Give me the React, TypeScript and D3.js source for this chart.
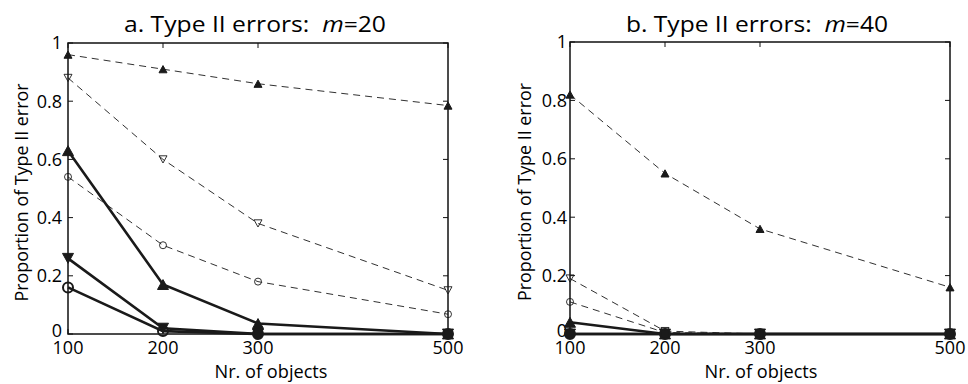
import React, { useRef, useEffect } from "react";
import * as d3 from "d3";

const objects = [100, 200, 300, 500];
const yTicks = [0, 0.2, 0.4, 0.6, 0.8, 1];

// panel a (m=20)
const aDashUp = [0.96, 0.91, 0.86, 0.785];
const aDashDown = [0.88, 0.6, 0.38, 0.15];
const aDashCircle = [0.54, 0.305, 0.18, 0.068];
const aSolidUp = [0.63, 0.17, 0.036, 0];
const aSolidDown = [0.26, 0.02, 0, 0];
const aSolidCircle = [0.16, 0.01, 0, 0];

// panel b (m=40)
const bDashUp = [0.82, 0.55, 0.36, 0.16];
const bDashDown = [0.19, 0.01, 0, 0];
const bDashCircle = [0.11, 0.005, 0, 0];
const bSolidUp = [0.04, 0, 0, 0];
const bSolidDown = [0, 0, 0, 0];
const bSolidCircle = [0, 0, 0, 0];

const FONT = "'Open Sans', 'Noto Sans', sans-serif";

function drawPanel(svg, opts) {
  const { x0, x1, y0, y1, title, m, series, labelPad, yLabelX, xLabelX } = opts;
  const x = d3.scaleLinear().domain([100, 500]).range([x0, x1]);
  const y = d3.scaleLinear().domain([0, 1]).range([y0, y1]);
  const g = svg.append("g");

  // box
  g.append("rect")
    .attr("x", x0)
    .attr("y", y1)
    .attr("width", x1 - x0)
    .attr("height", y0 - y1)
    .attr("fill", "none")
    .attr("stroke", "#111")
    .attr("stroke-width", 1.5);

  // inward ticks
  yTicks.forEach((t) => {
    g.append("line").attr("x1", x0).attr("x2", x0 + 5).attr("y1", y(t)).attr("y2", y(t)).attr("stroke", "#111");
    g.append("line").attr("x1", x1).attr("x2", x1 - 5).attr("y1", y(t)).attr("y2", y(t)).attr("stroke", "#111");
    g.append("text")
      .attr("x", x0 - labelPad)
      .attr("y", y(t) - (t === 0 ? 3 : 0))
      .attr("dy", "0.36em")
      .attr("text-anchor", "end")
      .style("font-family", FONT)
      .style("font-size", "18px")
      .text(t === 0 ? "0" : t === 1 ? "1" : t.toFixed(1));
  });
  objects.forEach((t) => {
    g.append("line").attr("x1", x(t)).attr("x2", x(t)).attr("y1", y0).attr("y2", y0 - 5).attr("stroke", "#111");
    g.append("line").attr("x1", x(t)).attr("x2", x(t)).attr("y1", y1).attr("y2", y1 + 5).attr("stroke", "#111");
    g.append("text")
      .attr("x", x(t))
      .attr("y", y0 + 20)
      .attr("text-anchor", "middle")
      .style("font-family", FONT)
      .style("font-size", "18px")
      .text(t);
  });

  // axis labels
  g.append("text")
    .attr("x", xLabelX)
    .attr("y", 378)
    .attr("text-anchor", "middle")
    .attr("textLength", 113)
    .attr("lengthAdjust", "spacingAndGlyphs")
    .style("font-family", FONT)
    .style("font-size", "18px")
    .text("Nr. of objects");
  g.append("text")
    .attr("transform", `translate(${yLabelX},${(y0 + y1) / 2 + 4}) rotate(-90)`)
    .attr("text-anchor", "middle")
    .attr("textLength", 218)
    .attr("lengthAdjust", "spacingAndGlyphs")
    .style("font-family", FONT)
    .style("font-size", "18px")
    .text("Proportion of Type II error");

  // title
  const tt = g.append("text")
    .attr("x", (x0 + x1) / 2 - 3)
    .attr("y", 32)
    .attr("text-anchor", "middle")
    .attr("textLength", 262)
    .attr("lengthAdjust", "spacingAndGlyphs")
    .style("font-family", FONT)
    .style("font-size", "21px")
    .attr("xml:space", "preserve");
  tt.append("tspan").text(title + "  ");
  tt.append("tspan").style("font-style", "italic").text("m");
  tt.append("tspan").text("=" + m);

  const line = d3.line().x((d, i) => x(objects[i])).y((d) => y(d));

  series.forEach((s) => {
    g.append("path")
      .attr("d", line(s.values))
      .attr("fill", "none")
      .attr("stroke", "#1a1a1a")
      .attr("stroke-width", s.solid ? 2.6 : 0.9)
      .attr("stroke-dasharray", s.solid ? null : "7,5");
  });

  series.forEach((s) => {
    const size = s.solid ? 11 : 8;
    s.values.forEach((v, i) => {
      const cx = x(objects[i]);
      const cy = y(v);
      if (s.marker === "circle") {
        g.append("circle")
          .attr("cx", cx)
          .attr("cy", cy)
          .attr("r", size / 2 - 0.5)
          .attr("fill", s.solid && v === 0 ? "#1a1a1a" : "white")
          .attr("fill-opacity", s.solid && v === 0 ? 1 : 0)
          .attr("stroke", "#1a1a1a")
          .attr("stroke-width", s.solid ? 2 : 0.9);
      } else {
        const h = size * 0.9;
        const w = size / 2;
        const dir = s.marker === "up" ? 1 : -1;
        const pts = [
          [cx, cy - (dir * h) / 2],
          [cx - w, cy + (dir * h) / 2],
          [cx + w, cy + (dir * h) / 2],
        ];
        g.append("path")
          .attr("d", "M" + pts.map((p) => p.join(",")).join("L") + "Z")
          .attr("fill", s.filled ? "#1a1a1a" : "none")
          .attr("stroke", "#1a1a1a")
          .attr("stroke-width", s.filled ? 1 : 0.9);
      }
    });
  });
}

export default function App() {
  const ref = useRef(null);

  useEffect(() => {
    const svg = d3.select(ref.current);
    svg.selectAll("*").remove();

    drawPanel(svg, {
      x0: 68, x1: 448, y0: 334, y1: 43,
      title: "a. Type II errors:", m: 20,
      labelPad: 6, yLabelX: 28, xLabelX: 271,
      series: [
        { values: aDashUp, marker: "up", filled: true, solid: false },
        { values: aDashDown, marker: "down", filled: false, solid: false },
        { values: aDashCircle, marker: "circle", filled: false, solid: false },
        { values: aSolidUp, marker: "up", filled: true, solid: true },
        { values: aSolidDown, marker: "down", filled: true, solid: true },
        { values: aSolidCircle, marker: "circle", filled: false, solid: true },
      ],
    });

    drawPanel(svg, {
      x0: 570, x1: 950, y0: 334, y1: 42,
      title: "b. Type II errors:", m: 40,
      labelPad: 3, yLabelX: 531, xLabelX: 761,
      series: [
        { values: bDashUp, marker: "up", filled: true, solid: false },
        { values: bDashDown, marker: "down", filled: false, solid: false },
        { values: bDashCircle, marker: "circle", filled: false, solid: false },
        { values: bSolidUp, marker: "up", filled: true, solid: true },
        { values: bSolidDown, marker: "down", filled: true, solid: true },
        { values: bSolidCircle, marker: "circle", filled: false, solid: true },
      ],
    });
  }, []);

  return (
    <svg
      ref={ref}
      width={968}
      height={384}
      style={{ position: "absolute", left: 0, top: 0, background: "white" }}
    />
  );
}
